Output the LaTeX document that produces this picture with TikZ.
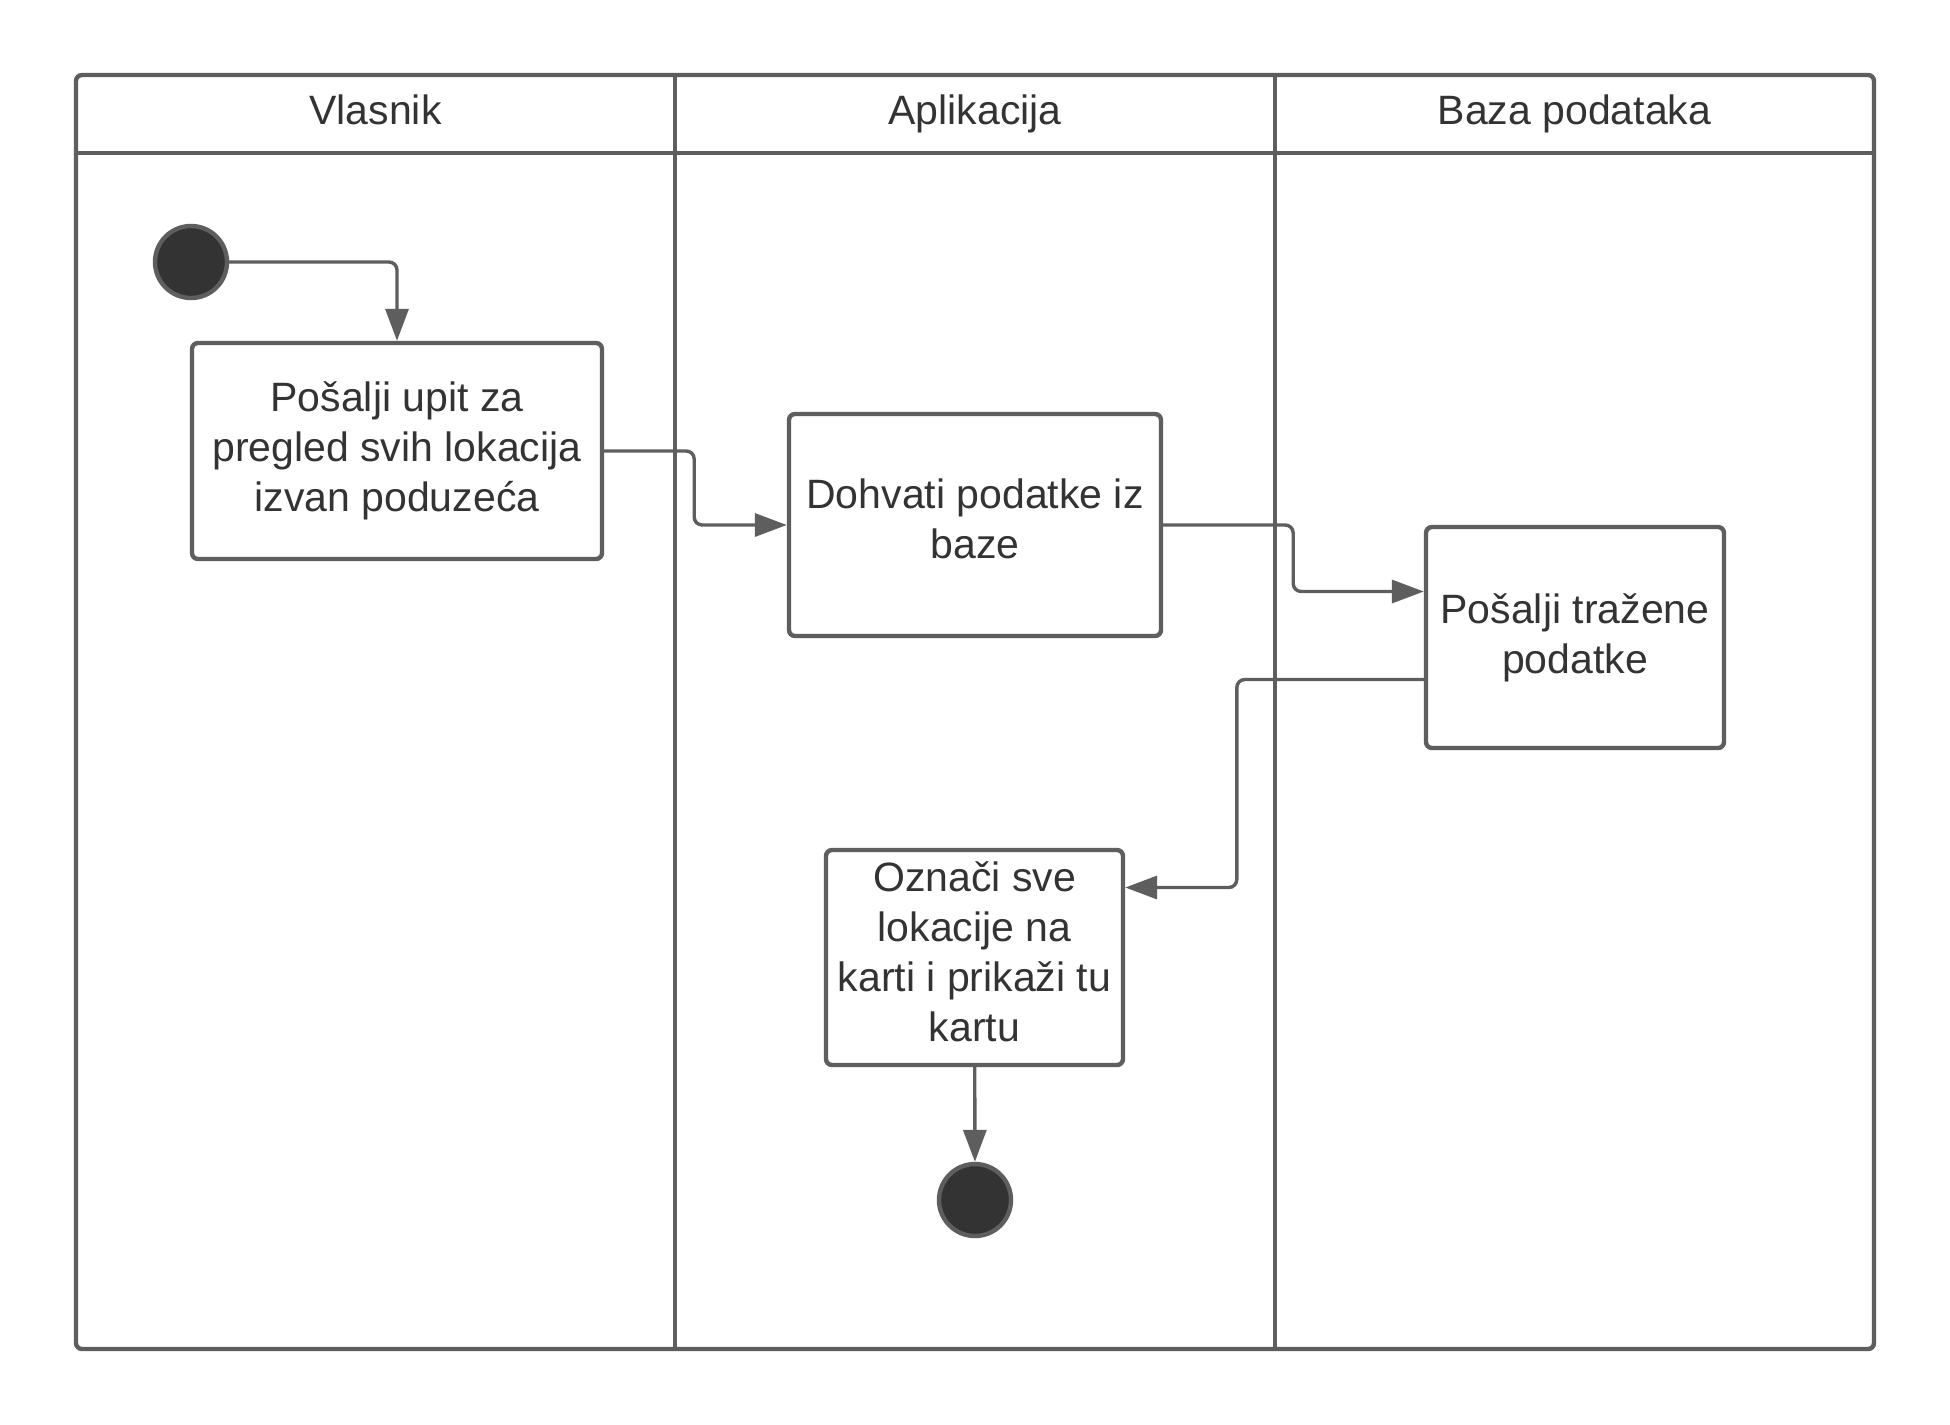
\documentclass[tikz,border=0pt]{standalone}
\usepackage{fontspec}
\setmainfont{Liberation Sans}
\usetikzlibrary{arrows.meta}

\definecolor{linija}{RGB}{94,94,94}
\definecolor{tocka}{RGB}{51,51,51}
\definecolor{tekst}{RGB}{51,51,51}

\begin{document}
\begin{tikzpicture}[x=0.5pt, y=-0.5pt,
  font=\fontsize{20.5}{25}\selectfont, text=tekst,
  okvir/.style={draw=linija, line width=2.2pt},
  naslov/.style={anchor=base},
  akcija/.style={draw=linija, line width=2.2pt, rounded corners=3pt, align=center, inner sep=0pt},
  krug/.style={draw=linija, line width=2.2pt, circle, fill=tocka, minimum size=36pt, inner sep=0pt},
  tok/.style={draw=linija, line width=1.7pt, rounded corners=4pt, -{Triangle[length=16pt,width=11.5pt]}}]
\useasboundingbox (0,0) rectangle (1950,1425);
\fill [white] (0,0) rectangle (1950,1425);

% plivacke staze
\draw [okvir, rounded corners=3pt] (76,75) rectangle (1874,1349);
\draw [okvir] (76,153) -- (1874,153);
\draw [okvir] (675,75) -- (675,1349);
\draw [okvir] (1275,75) -- (1275,1349);
\node [naslov] (vlasnik) at (375.5,124) {Vlasnik};
\node [naslov] (aplikacija) at (975,124) {Aplikacija};
\node [naslov] (baza) at (1574.5,124) {Baza podataka};

% aktivnosti
\node [krug] (start) at (191,262) {};
\node [akcija, minimum width=205pt, minimum height=108pt] (upit) at (397,451) {Pošalji upit za\\pregled svih lokacija\\izvan poduzeća};
\node [akcija, minimum width=186pt, minimum height=111pt] (dohvati) at (975,525) {Dohvati podatke iz\\baze\\[-19pt]};
\node [akcija, minimum width=149pt, minimum height=110.5pt] (posalji) at (1575,637.5) {Pošalji tražene\\podatke};
\node [akcija, minimum width=148.5pt, minimum height=107.5pt] (oznaci) at (974.5,957.5) {Označi sve\\lokacije na\\karti i prikaži tu\\kartu\\[-19pt]};
\node [krug] (kraj) at (975,1200) {};

% prijelazi
\draw [tok] (start) -| (upit);
\draw [tok] (upit.east) -- ++(90,0) |- (dohvati.west);
\draw [tok] (dohvati.east) -- ++(130,0) |- ([yshift=23pt]posalji.west);
\draw [tok] ([yshift=-21pt]posalji.west) -- ++(-187,0) |- ([yshift=35pt]oznaci.east);
\draw [tok] (oznaci) -- (kraj);
\end{tikzpicture}
\end{document}
